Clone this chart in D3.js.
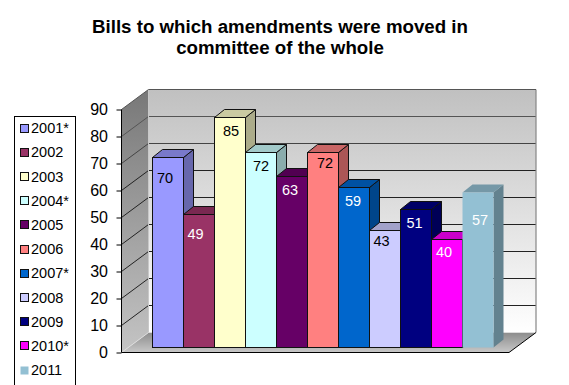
<!DOCTYPE html>
<html><head><meta charset="utf-8">
<script src="https://cdn.jsdelivr.net/npm/d3@7/dist/d3.min.js"></script>
<style>html,body{margin:0;padding:0;background:#fff}svg{display:block}text{font-family:"Liberation Sans",Arial,sans-serif}</style>
</head><body><svg id="c" width="569" height="385"></svg>
<script>
const categories = ["2001*","2002","2003","2004*","2005","2006","2007*","2008","2009","2010*","2011"];
const values = [70,49,85,72,63,72,59,43,51,40,57];
const colors = ["#9999ff","#993366","#ffffcc","#ccffff","#660066","#ff8080","#0066cc","#ccccff","#000080","#ff00ff","#93c0d3"];
const labelColors = ["#000","#fff","#000","#000","#fff","#000","#fff","#000","#fff","#fff","#fff"];
const labelNudgeX = [-3,-3.5,1,0,-2,2,-1,-3.5,-1.5,-3,2];
const labelNudgeY = [20,19,13,13,13,10,13.5,10,13.5,12,27];
const titleLines = ["Bills to which amendments were moved in","committee of the whole"];
const yTicks = [0,10,20,30,40,50,60,70,80,90];

const svg = d3.select("#c");
const defs = svg.append("defs");
function grad(id, stops){
  const g = defs.append("linearGradient").attr("id",id).attr("x1",0).attr("y1",0).attr("x2",0).attr("y2",1);
  stops.forEach(s=>g.append("stop").attr("offset",s[0]).attr("stop-color",s[1]));
}
grad("wall",[[0,"#c0c0c0"],[1,"#ffffff"]]);
grad("side",[[0,"#787878"],[1,"#c4c4c4"]]);
grad("floor",[[0,"#8c8c8c"],[1,"#c8c8c8"]]);

const y = d3.scaleLinear().domain([0,90]).range([352.5,109.5]);
const x = d3.scaleBand().domain(categories).range([152.5,493.5]).padding(0);
const barRaw = d3.scaleLinear().domain([0,90]).range([347,103]).interpolate(d3.interpolateRound);
const barY = v => barRaw(v)+0.5;
const L=121.5, R=509, DX=27, DY=-20, dx=10, dy=-8;
const poly = p => p.map(q=>q.join(",")).join(" ");

// title
svg.append("g").selectAll("text").data(titleLines).join("text")
  .attr("x",280).attr("y",(d,i)=>33+i*21).attr("text-anchor","middle")
  .attr("font-size",18.7).attr("font-weight","bold").attr("fill","#000").text(d=>d);

// walls
const bTop=y(90)+DY, bBot=y(0)+DY;
svg.append("polygon").attr("points",poly([[L+DX,bTop],[R+DX,bTop],[R+DX,bBot],[L+DX,bBot]])).attr("fill","url(#wall)");
svg.append("polygon").attr("points",poly([[L,y(90)],[L+DX,bTop],[L+DX,bBot],[L,y(0)]])).attr("fill","url(#side)");
svg.append("polygon").attr("points",poly([[L,y(0)],[R,y(0)],[R+DX,bBot],[L+DX,bBot]])).attr("fill","url(#floor)");

// gridlines
const grid = svg.append("g").attr("fill","none");
grid.selectAll("polyline").data(yTicks.filter(d=>d>0)).join("polyline")
  .attr("points",d=>poly([[L,y(d)],[L+DX,y(d)+DY],[R+DX,y(d)+DY]]))
  .attr("stroke",d=>d>=80?"#555":d>=70?"#444":"#222").attr("stroke-width",1);
grid.append("polyline").attr("points",poly([[R+DX,bTop],[R+DX,bBot]])).attr("stroke","#858585").attr("stroke-width",1.2);
grid.append("polyline").attr("points",poly([[L+DX,bTop],[L+DX,bBot]])).attr("stroke","#c8c8c8").attr("stroke-width",1);
grid.append("polyline").attr("points",poly([[L,y(0)],[L+DX,bBot],[R+DX,bBot]])).attr("stroke","#ddd").attr("stroke-width",1);
grid.append("polyline").attr("points",poly([[L+DX,bTop],[R+DX,bTop]])).attr("stroke","#555").attr("stroke-width",1);

// floor edges + axis
svg.append("polyline").attr("fill","none").attr("stroke","#000")
  .attr("points",poly([[L,y(0)],[R,y(0)],[R+DX,bBot]]));
const axis = d3.axisLeft(y).tickValues(yTicks).tickSize(5).tickPadding(8.5);
const ag = svg.append("g").attr("transform",`translate(${L},0)`).call(axis);
ag.select(".domain").attr("stroke","#000").attr("d",`M0,${y(90)}V${y(0)}`);
ag.selectAll("line").attr("stroke","#000");
ag.selectAll("text").attr("font-size",16).attr("fill","#000")
  .style("font-family",'"Liberation Sans",Arial,sans-serif');

// bars
const shade = (c,k)=>d3.rgb(c).darker(k).formatHex();
const bars = svg.append("g").selectAll("g").data(values).join("g");
const bx = (d,i)=>x(categories[i]), bw = x.bandwidth();
const stroke = i => i===10 ? "none" : "#111";
bars.append("polygon").attr("points",(d,i)=>{const X=bx(d,i),T=barY(d);
    return poly([[X+bw,T],[X+bw+dx,T+dy],[X+bw+dx,barY(0)+dy],[X+bw,barY(0)]]);})
  .attr("fill",(d,i)=>shade(colors[i],1.1)).attr("stroke",(d,i)=>stroke(i));
bars.append("polygon").attr("points",(d,i)=>{const X=bx(d,i),T=barY(d);
    return poly([[X,T],[X+dx,T+dy],[X+bw+dx,T+dy],[X+bw,T]]);})
  .attr("fill",(d,i)=>shade(colors[i],0.65)).attr("stroke",(d,i)=>stroke(i));
bars.append("rect").attr("x",bx).attr("y",d=>barY(d)).attr("width",bw).attr("height",d=>barY(0)-barY(d))
  .attr("fill",(d,i)=>colors[i]).attr("stroke",(d,i)=>stroke(i));
bars.append("text").attr("x",(d,i)=>bx(d,i)+bw/2+labelNudgeX[i]).attr("y",(d,i)=>barY(d)+labelNudgeY[i])
  .attr("dy","0.36em").attr("text-anchor","middle").attr("font-size",14.5)
  .attr("fill",(d,i)=>labelColors[i]).text(d=>d);

// legend
svg.append("rect").attr("x",14.5).attr("y",116.5).attr("width",61).attr("height",290).attr("fill","#fff").attr("stroke","#000");
const ly = d3.scalePoint().domain(categories).range([128,370]);
const leg = svg.append("g").selectAll("g").data(categories).join("g").attr("transform",d=>`translate(0,${ly(d)})`);
leg.append("rect").attr("x",20.5).attr("y",d=>-3.5-(ly(d)%1)).attr("width",8).attr("height",8)
  .attr("fill",(d,i)=>colors[i]).attr("stroke",(d,i)=>stroke(i));
leg.append("text").attr("x",31).attr("dy","0.36em").attr("font-size",14.5).attr("fill","#000").text(d=>d);
</script></body></html>
